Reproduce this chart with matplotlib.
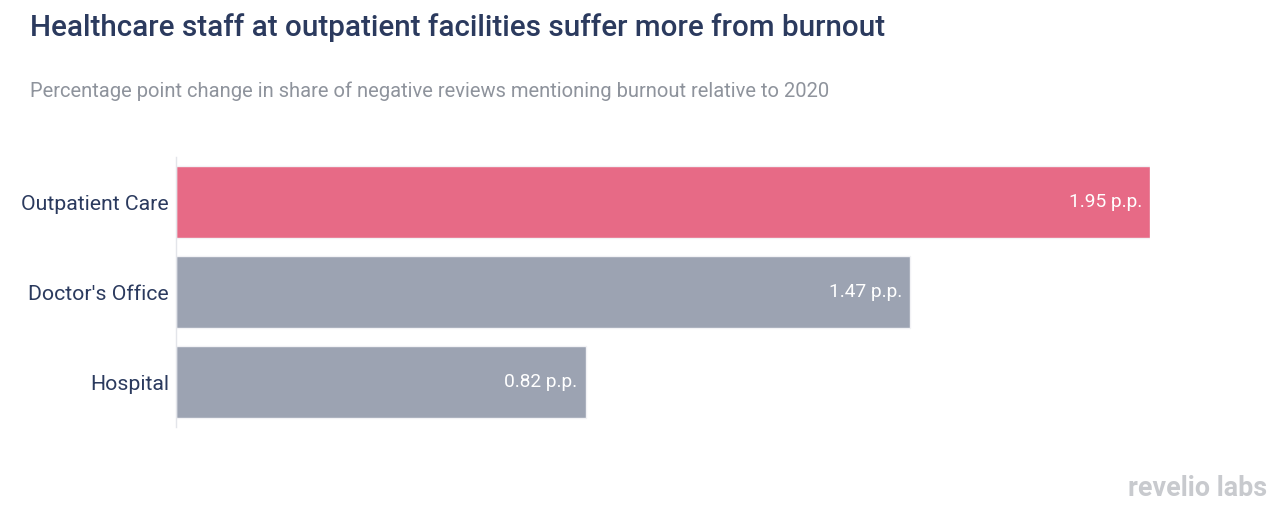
import matplotlib.pyplot as plt

plt.rcParams['font.family'] = ['Roboto', 'DejaVu Sans']

categories = ["Outpatient Care", "Doctor's Office", "Hospital"]
values = [1.95, 1.47, 0.82]
bar_colors = ["#E76A86", "#9CA3B2", "#9CA3B2"]
value_labels = [f"{v:.2f} p.p." for v in values]

title = "Healthcare staff at outpatient facilities suffer more from burnout"
subtitle = "Percentage point change in share of negative reviews mentioning burnout relative to 2020"

fig = plt.figure(figsize=(12.87, 5.17), dpi=100)
W, H = 1287, 517
# axes spans pixel x 176..1150, y 157..427
ax = fig.add_axes([176 / W, 1 - 427 / H, (1150 - 176) / W, (427 - 157) / H])

ypos = list(range(len(categories)))
ax.barh(ypos, values, height=0.79, color=bar_colors, edgecolor="#f2f2f5", linewidth=1)
ax.set_xlim(0, 1.95)
ax.set_ylim(len(categories) - 0.5, -0.5)

for y, v, lab in zip(ypos, values, value_labels):
    ax.text(v - 0.016, y, lab, ha="right", va="center", color="white", fontsize=13.8)

ax.set_yticks(ypos)
ax.set_yticklabels(categories, fontsize=15.3, color="#2B3A5E")
ax.tick_params(axis="y", length=0, pad=5)
ax.set_xticks([])
for s in ["top", "right", "bottom"]:
    ax.spines[s].set_visible(False)
ax.spines["left"].set_color("#e3e5ea")
ax.spines["left"].set_linewidth(1)

fig.text(30 / W, 1 - 28 / H, title, fontsize=21.3, fontweight="medium", color="#2B3A5E",
         ha="left", va="center")
fig.text(30 / W, 1 - 91 / H, subtitle, fontsize=14.5, color="#8E939C",
         ha="left", va="center")
fig.text(1267 / W, 1 - 489 / H, "revelio labs", fontsize=19.4, fontweight="bold",
         color="#C8CACE", ha="right", va="center")

fig.savefig("out.png", dpi=100)
